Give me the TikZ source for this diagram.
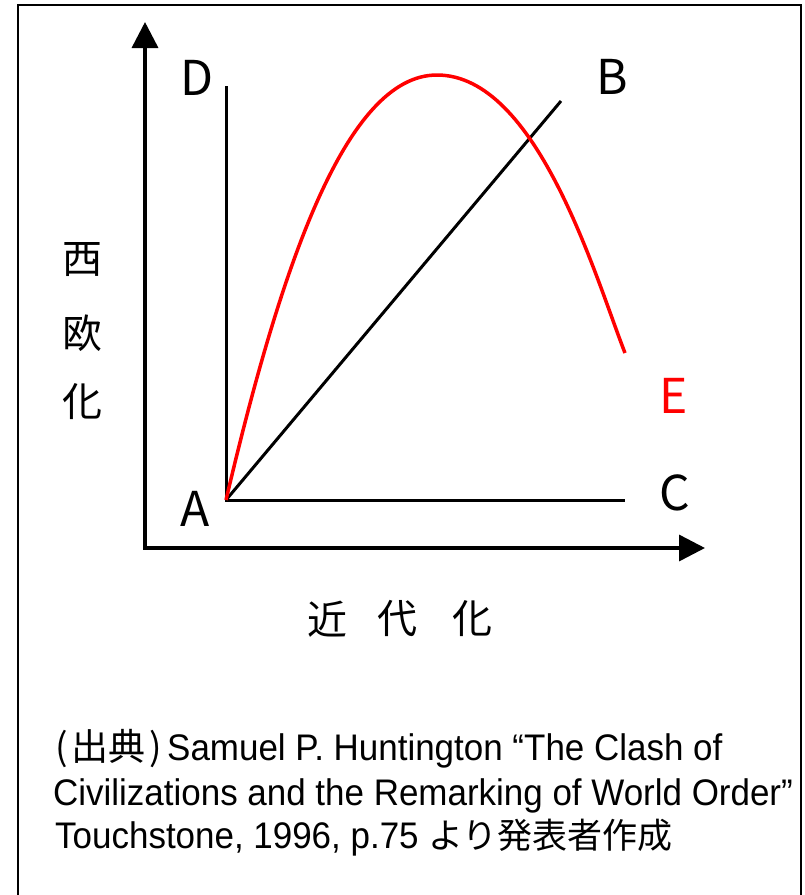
\documentclass[tikz,border=0pt]{standalone}
\usepackage{fontspec}
\usetikzlibrary{arrows.meta}
\newfontfamily\capfont{Liberation Sans}[FakeStretch=0.945]
\newfontfamily\jp{Noto Sans CJK JP}
\begin{document}
\begin{tikzpicture}[x=1pt,y=-1pt,
  axis/.style={line width=3.5pt, {Triangle[width=26pt,length=26pt]}-{Triangle[width=26pt,length=26pt]}},
  guide/.style={line width=3pt},
  curve/.style={red, line width=3.5pt},
  letter/.style={font=\jp\fontsize{48}{48}\selectfont, inner sep=0pt},
  kanji/.style={font=\jp\fontsize{40}{40}\selectfont, inner sep=0pt},
  captext/.style={font=\capfont\fontsize{37}{37}\selectfont, inner sep=0pt, anchor=base west}]
\useasboundingbox (0,0) rectangle (804,895);
% frame
\draw[line width=2pt] (18,897) -- (18,5) -- (801,5) -- (801,897);
% coordinates
\coordinate (O) at (145,548);
\coordinate (Ytip) at (145,22);
\coordinate (Xtip) at (705,548);
\coordinate (A) at (226,500);
\coordinate (B) at (561,101);
\coordinate (C) at (625,500);
\coordinate (D) at (226,86);
\coordinate (Peak) at (437,75);
\coordinate (Eend) at (625,353);
% axes
\draw[axis] (Ytip) -- (O) -- (Xtip);
% lines
\draw[guide] (D) -- (A) -- (C);
\draw[guide] (A) -- (B);
% red curve
\draw[curve] (A) .. controls (280,270) and (345,75) .. (Peak)
                 .. controls (537,75) and (595,276) .. (Eend);
% labels
\node[letter] (lA) at (195,509) {A};
\node[letter] (lB) at (612,77) {B};
\node[letter] (lC) at (675,493) {C};
\node[letter] (lD) at (197,78) {D};
\node[letter, red] (lE) at (674,396) {E};
% axis titles
\node[kanji] (w1) at (82,260) {西};
\node[kanji] (w2) at (82,333) {欧};
\node[kanji] (w3) at (82,402) {化};
\node[kanji] (m1) at (327,619) {近};
\node[kanji] (m2) at (397,619) {代};
\node[kanji] (m3) at (472,619) {化};
% caption
\node[captext] (c1) at (55,760) {{\jp(\kern4pt出典\kern4pt)\kern5pt}Samuel P. Huntington “The Clash of};
\node[captext] (c2) at (53,805) {Civilizations and the Remarking of World Order”};
\node[captext] (c3) at (55,848) {Touchstone, 1996, p.75 {\jp\fontsize{35}{35}\selectfont より発表者作成}};
\end{tikzpicture}
\end{document}
